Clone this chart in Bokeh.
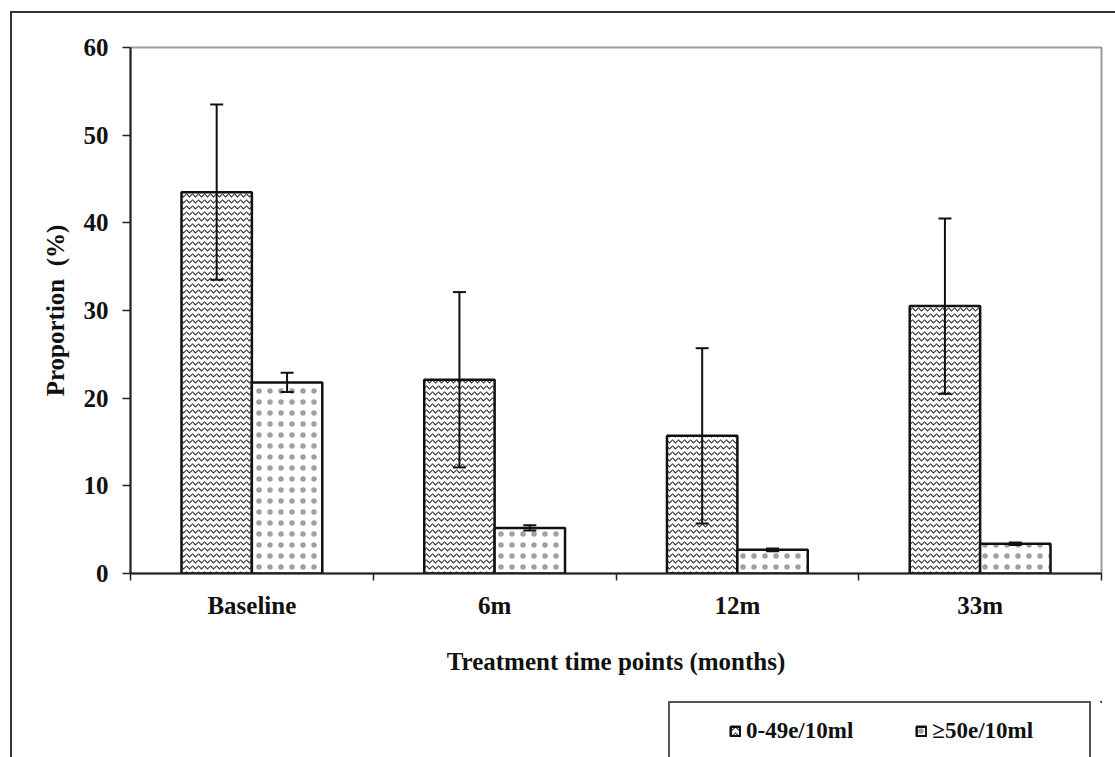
import numpy as np
from bokeh.plotting import figure
from bokeh.layouts import column
from bokeh.models import (ColumnDataSource, Whisker, TeeHead, FixedTicker, Legend,
                          LegendItem, Range1d)
from bokeh.embed import file_html
from bokeh.resources import INLINE

# ---- data ----
categories = ["Baseline", "6m", "12m", "33m"]
low_values = [43.5, 22.1, 15.7, 30.5]      # 0-49e/10ml
low_errors = [10.0, 10.0, 10.0, 10.0]
high_values = [21.8, 5.2, 2.7, 3.4]        # >=50e/10ml
high_errors = [1.1, 0.3, 0.15, 0.15]
series_labels = ["0-49e/10ml", "≥50e/10ml"]
y_ticks = [0, 10, 20, 30, 40, 50, 60]
x_title = "Treatment time points (months)"
y_title = "Proportion\u00a0 (%)"

FONT = "Liberation Serif"
bar_w = 0.29
centers = [float(i) + 0.5 for i in range(len(categories))]
bounds = [float(i) for i in range(len(categories) + 1)]

low_src = ColumnDataSource(dict(
    x=[c - bar_w / 2 for c in centers], top=low_values,
    upper=[v + e for v, e in zip(low_values, low_errors)],
    lower=[v - e for v, e in zip(low_values, low_errors)]))
high_src = ColumnDataSource(dict(
    x=[c + bar_w / 2 for c in centers], top=high_values,
    upper=[v + e for v, e in zip(high_values, high_errors)],
    lower=[v - e for v, e in zip(high_values, high_errors)]))

LOW_STYLE = dict(fill_color="white", line_color="#111111", line_width=2.5,
                 hatch_pattern="horizontal_wave", hatch_color="#3a3a3a",
                 hatch_scale=6, hatch_weight=1.2)
HIGH_STYLE = dict(fill_color="white", line_color="#111111", line_width=2.5,
                  hatch_pattern="dot", hatch_color="#a0a0a0",
                  hatch_scale=11, hatch_weight=0.5)

# decorative outer panel border (top/left) and the legend frame, as CSS
# backgrounds behind the transparent canvas borders
frame_css = ", ".join([
    "linear-gradient(#333,#333) 10px 11px / 1200px 2px no-repeat",
    "linear-gradient(#333,#333) 10px 11px / 2px 1200px no-repeat",
    "linear-gradient(#555,#555) 668px 701px / 423px 2px no-repeat",
    "linear-gradient(#555,#555) 668px 701px / 2px 100px no-repeat",
    "linear-gradient(#555,#555) 1089px 701px / 2px 100px no-repeat",
    "white",
])

# ---------------- main chart ----------------
p = figure(width=1115, height=701, output_backend="svg", toolbar_location=None,
           x_range=Range1d(0, len(categories)), y_range=Range1d(0, 60),
           min_border_left=130, min_border_right=14, min_border_top=47,
           min_border_bottom=128)
p.background_fill_color = "white"
p.border_fill_alpha = 0
p.outline_line_color = "#9a9a9a"
p.outline_line_width = 2
p.xgrid.visible = False
p.ygrid.visible = False

r_low = p.vbar(x="x", top="top", bottom=0, width=bar_w, source=low_src, **LOW_STYLE)
r_high = p.vbar(x="x", top="top", bottom=0, width=bar_w, source=high_src, **HIGH_STYLE)

for src in (low_src, high_src):
    p.add_layout(Whisker(source=src, base="x", upper="upper", lower="lower",
                         level="overlay", line_color="#111111", line_width=2,
                         upper_head=TeeHead(size=13, line_width=2, line_color="#111111"),
                         lower_head=TeeHead(size=13, line_width=2, line_color="#111111")))

xa = p.xaxis[0]
xa.ticker = FixedTicker(ticks=centers, minor_ticks=bounds)
xa.major_label_overrides = {c: n for c, n in zip(centers, categories)}
xa.major_tick_out = 0
xa.major_tick_in = 0
xa.minor_tick_out = 7
xa.minor_tick_in = 0
xa.minor_tick_line_color = "#222222"
xa.minor_tick_line_width = 1.5
xa.axis_line_color = "#222222"
xa.axis_line_width = 2
xa.major_label_text_font = FONT
xa.major_label_text_font_style = "bold"
xa.major_label_text_font_size = "25px"
xa.major_label_text_color = "#111111"
xa.major_label_standoff = 11
xa.axis_label = x_title
xa.axis_label_text_font = FONT
xa.axis_label_text_font_style = "bold"
xa.axis_label_text_font_size = "25px"
xa.axis_label_text_color = "#111111"
xa.axis_label_standoff = 26

ya = p.yaxis[0]
ya.ticker = FixedTicker(ticks=y_ticks, minor_ticks=[])
ya.major_tick_out = 8
ya.major_tick_in = 0
ya.major_tick_line_color = "#222222"
ya.major_tick_line_width = 1.5
ya.axis_line_color = "#222222"
ya.axis_line_width = 2
ya.major_label_text_font = FONT
ya.major_label_text_font_style = "bold"
ya.major_label_text_font_size = "25px"
ya.major_label_text_color = "#111111"
ya.major_label_standoff = 14
ya.axis_label = y_title
ya.axis_label_text_font = FONT
ya.axis_label_text_font_style = "bold"
ya.axis_label_text_font_size = "25px"
ya.axis_label_text_color = "#111111"
ya.axis_label_standoff = 12

# ---------------- legend strip (same frame columns as the chart) ----------------
q = figure(width=1115, height=56, output_backend="svg", toolbar_location=None,
           x_range=Range1d(-100, -99), y_range=Range1d(-100, -99),
           x_axis_location=None, y_axis_location=None,
           min_border_left=130, min_border_right=14, min_border_top=0,
           min_border_bottom=0)
q.background_fill_alpha = 0
q.border_fill_alpha = 0
q.outline_line_color = None
q.xgrid.visible = False
q.ygrid.visible = False
# legend keys use the same data sources; they lie outside this strip's ranges
k_low = q.vbar(x="x", top="top", bottom=0, width=bar_w, source=low_src, **LOW_STYLE)
k_high = q.vbar(x="x", top="top", bottom=0, width=bar_w, source=high_src, **HIGH_STYLE)

legend = Legend(items=[LegendItem(label=series_labels[0], renderers=[k_low]),
                       LegendItem(label=series_labels[1], renderers=[k_high])],
                orientation="horizontal", location=(599, 13),
                padding=0, margin=0, spacing=62,
                glyph_width=12, glyph_height=12, label_standoff=5,
                label_height=26,
                label_text_font=FONT, label_text_font_style="bold",
                label_text_font_size="23px", label_text_color="#111111",
                inactive_fill_alpha=0,
                background_fill_alpha=0, border_line_alpha=0)
q.add_layout(legend, "center")

page = column(p, q, spacing=0, styles={"background": frame_css})

open("out.html", "w").write(file_html(page, INLINE))
